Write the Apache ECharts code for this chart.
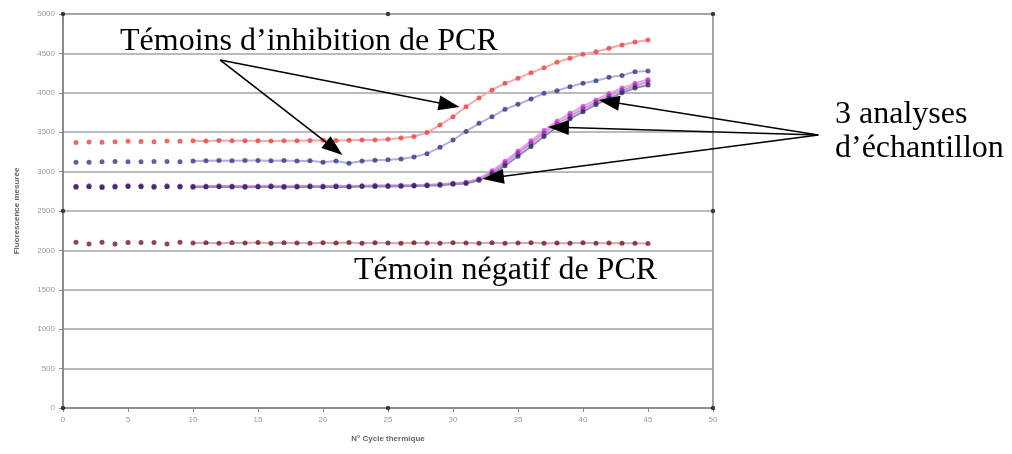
<!DOCTYPE html>
<html>
<head>
<meta charset="utf-8">
<script src="https://cdn.jsdelivr.net/npm/echarts@6/dist/echarts.min.js"></script>
<style>
  html, body { margin: 0; padding: 0; background: #fff; }
  #chart { width: 1012px; height: 454px; }
</style>
</head>
<body>
<div id="chart"></div>
<script>
// Thermal cycles (x) and measured fluorescence per run
const cycles = [1,2,3,4,5,6,7,8,9,10,11,12,13,14,15,16,17,18,19,20,21,22,23,24,25,26,27,28,29,30,31,32,33,34,35,36,37,38,39,40,41,42,43,44,45];

const inhibitionA = [3370,3375,3372,3378,3385,3383,3378,3388,3385,3390,3388,3395,3390,3392,3390,3388,3392,3390,3395,3398,3395,3398,3400,3402,3410,3425,3445,3495,3590,3697,3824,3934,4036,4120,4184,4255,4319,4387,4438,4488,4522,4565,4607,4645,4670];
const inhibitionB = [3120,3118,3125,3128,3125,3125,3128,3128,3126,3135,3138,3140,3138,3140,3140,3138,3140,3135,3138,3120,3135,3105,3135,3145,3150,3160,3185,3228,3308,3401,3510,3613,3697,3790,3854,3921,3993,4027,4078,4120,4154,4196,4221,4268,4277];
const sample1 = [2815,2820,2812,2818,2822,2820,2815,2820,2818,2815,2818,2820,2818,2815,2818,2820,2815,2818,2820,2818,2820,2818,2822,2825,2825,2828,2830,2832,2840,2852,2865,2910,3010,3130,3260,3390,3520,3640,3740,3830,3910,3990,4060,4120,4170];
const sample2 = [2810,2815,2805,2812,2818,2815,2810,2815,2812,2810,2812,2815,2812,2810,2812,2815,2810,2812,2815,2812,2815,2812,2818,2820,2820,2822,2825,2828,2835,2848,2860,2900,2990,3105,3232,3359,3486,3605,3705,3795,3880,3960,4030,4090,4140];
const sample3 = [2800,2808,2798,2805,2810,2808,2802,2808,2805,2802,2805,2808,2805,2802,2805,2808,2802,2805,2808,2805,2808,2805,2810,2812,2812,2815,2818,2820,2828,2840,2850,2890,2970,3075,3195,3320,3445,3565,3670,3760,3850,3930,4000,4060,4100];
const negative = [2105,2080,2105,2082,2100,2100,2100,2080,2105,2095,2098,2092,2098,2095,2100,2092,2098,2095,2092,2098,2095,2100,2092,2098,2095,2090,2098,2095,2092,2098,2095,2092,2098,2090,2095,2098,2092,2095,2090,2098,2092,2095,2090,2092,2088];

// Axis ticks
const xTicks = [0,5,10,15,20,25,30,35,40,45,50];
const yTicks = [0,500,1000,1500,2000,2500,3000,3500,4000,4500,5000];

const runs = [
  { name: 'Témoin inhibition 1', values: inhibitionA, dot: '#de4a46', line: '#f4aaaa' },
  { name: 'Témoin inhibition 2', values: inhibitionB, dot: '#383880', line: '#aeb0e0' },
  { name: 'Échantillon 1', values: sample1, dot: '#d044d0', line: '#e9a0e9' },
  { name: 'Échantillon 2', values: sample2, dot: '#8c2cae', line: '#c89ad8' },
  { name: 'Échantillon 3', values: sample3, dot: '#2a2a58', line: '#9a8ab8' },
  { name: 'Témoin négatif', values: negative, dot: '#74182a', line: '#d8aab0' }
];

// the connecting trace is only drawn from this cycle on
const traceFrom = 10;

const series = [];
runs.forEach(r => {
  const pts = cycles.map((c, i) => [c, r.values[i]]);
  series.push({
    name: r.name + ' (trace)',
    type: 'line',
    data: pts.filter(p => p[0] >= traceFrom),
    showSymbol: false,
    silent: true,
    lineStyle: { color: r.line, width: 2 },
    z: 2
  });
  series.push({
    name: r.name,
    type: 'scatter',
    data: pts,
    symbol: 'circle',
    symbolSize: 5,
    itemStyle: { color: r.dot },
    z: 3
  });
});

const chart = echarts.init(document.getElementById('chart'), null, { renderer: 'canvas' });

const axisGrey = '#8c8c8c';
const labelStyle = { color: '#9a9a9a', fontSize: 8, fontFamily: 'Liberation Sans', formatter: v => String(v) };

chart.setOption({
  animation: false,
  backgroundColor: '#ffffff',
  grid: { left: 63, top: 14, right: 299, bottom: 46, show: true, borderColor: '#a4a4a4', borderWidth: 2 },
  xAxis: {
    type: 'value', min: xTicks[0], max: xTicks[xTicks.length - 1], interval: 5,
    name: 'N° Cycle thermique', nameLocation: 'middle', nameGap: 27,
    nameTextStyle: { color: '#666', fontSize: 8, fontWeight: 'bold', fontFamily: 'Liberation Sans' },
    axisLine: { show: true, lineStyle: { color: axisGrey, width: 2 } },
    axisTick: { show: true, length: 4, lineStyle: { color: axisGrey } },
    axisLabel: Object.assign({ margin: 8 }, labelStyle),
    splitLine: { show: false }
  },
  yAxis: {
    type: 'value', min: yTicks[0], max: yTicks[yTicks.length - 1], interval: 500,
    name: 'Fluorescence mesurée', nameLocation: 'middle', nameGap: 42,
    nameTextStyle: { color: '#666', fontSize: 8, fontWeight: 'bold', fontFamily: 'Liberation Sans' },
    axisLine: { show: true, lineStyle: { color: axisGrey, width: 2 } },
    axisTick: { show: true, length: 4, lineStyle: { color: axisGrey } },
    axisLabel: Object.assign({ margin: 8 }, labelStyle),
    splitLine: { show: true, lineStyle: { color: '#a4a4a4', width: 1.5 } }
  },
  series: series
});

// Annotation arrows: origin and tip given in (cycle, fluorescence) space
function arrow(from, to) {
  const p0 = chart.convertToPixel({ gridIndex: 0 }, from);
  const p1 = chart.convertToPixel({ gridIndex: 0 }, to);
  const dx = p1[0] - p0[0], dy = p1[1] - p0[1];
  const L = Math.hypot(dx, dy);
  const ux = dx / L, uy = dy / L;
  const len = 21, hw = 7.5;
  const bx = p1[0] - ux * len, by = p1[1] - uy * len;
  return [
    { type: 'line', z: 50, shape: { x1: p0[0], y1: p0[1], x2: bx + ux * 2, y2: by + uy * 2 },
      style: { stroke: '#000', lineWidth: 1.6 } },
    { type: 'polygon', z: 50, shape: { points: [[p1[0], p1[1]], [bx - uy * hw, by + ux * hw], [bx + uy * hw, by - ux * hw]] },
      style: { fill: '#000' } }
  ];
}

const leftOrigin = [12.1, 4416];
const rightOrigin = [58.1, 3464];

const graphics = [].concat(
  arrow(leftOrigin, [21.5, 3211]),
  arrow(leftOrigin, [30.5, 3820]),
  arrow(rightOrigin, [41.2, 3909]),
  arrow(rightOrigin, [37.3, 3566]),
  arrow(rightOrigin, [32.3, 2906])
);

// selection handles on the plot frame (corners and mid-sides)
const handles = [[0, 0], [25, 0], [50, 0], [0, 2500], [50, 2500], [0, 5000], [25, 5000], [50, 5000]];
handles.forEach(h => {
  const p = chart.convertToPixel({ gridIndex: 0 }, h);
  graphics.push({ type: 'circle', z: 40, shape: { cx: p[0], cy: p[1], r: 2.2 }, style: { fill: '#3a3a3a' } });
});

const serif = '32px "Liberation Serif", "Times New Roman", serif';
function label(text, x, baseline) {
  return { type: 'text', z: 60, style: { text: text, x: x, y: baseline + 7, font: serif, fill: '#000', textVerticalAlign: 'bottom', verticalAlign: 'bottom' } };
}
graphics.push(label('Témoins d’inhibition de PCR', 120, 51));
graphics.push(label('Témoin négatif de PCR', 354, 280));
graphics.push(label('3 analyses', 835, 124));
graphics.push(label('d’échantillon', 835, 158));

chart.setOption({ graphic: graphics });
</script>
</body>
</html>
